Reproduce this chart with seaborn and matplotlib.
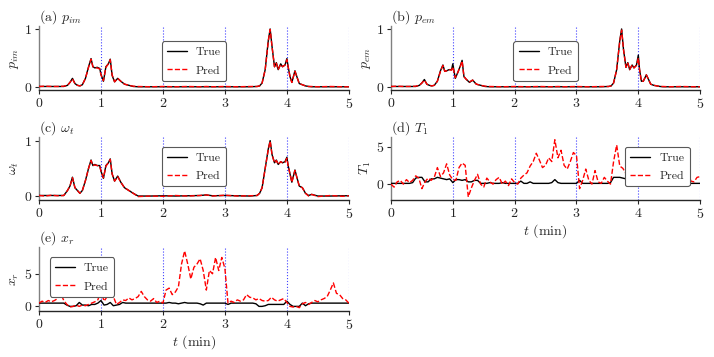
import matplotlib
matplotlib.use("Agg")
import matplotlib.pyplot as plt
import seaborn as sns

# time knots for the first three panels (min)
t_ac = [0.0, 0.1, 0.2, 0.3, 0.4, 0.46, 0.5, 0.54, 0.58, 0.62,
        0.66, 0.7, 0.75, 0.8, 0.84, 0.87, 0.9, 0.94, 0.98, 1.0,
        1.04, 1.08, 1.12, 1.15, 1.18, 1.22, 1.27, 1.32, 1.38, 1.45,
        1.52, 1.6, 1.8, 2.0, 2.2, 2.4, 2.6, 2.7, 2.8, 3.0,
        3.2, 3.4, 3.52, 3.56, 3.6, 3.65, 3.7, 3.73, 3.76, 3.8,
        3.83, 3.86, 3.9, 3.93, 3.97, 4.0, 4.02, 4.05, 4.08, 4.13,
        4.17, 4.2, 4.25, 4.3, 4.35, 4.4, 4.5, 4.7, 4.9, 5.0]

pim_true = [0.01, 0.01, 0.01, 0.01, 0.01, 0.03, 0.08, 0.15, 0.06, 0.03,
            0.02, 0.04, 0.15, 0.35, 0.49, 0.35, 0.33, 0.34, 0.32, 0.22,
            0.10, 0.35, 0.40, 0.48, 0.20, 0.09, 0.15, 0.10, 0.05, 0.03,
            0.01, 0.005, 0.005, 0.005, 0.005, 0.005, 0.005, 0.005, 0.005, 0.005,
            0.005, 0.005, 0.01, 0.02, 0.07, 0.30, 0.80, 1.0, 0.70, 0.35,
            0.42, 0.30, 0.40, 0.35, 0.38, 0.49, 0.35, 0.18, 0.08, 0.28,
            0.15, 0.06, 0.04, 0.02, 0.01, 0.005, 0.005, 0.005, 0.005, 0.005]
pim_pred = [0.01, 0.015, 0.01, 0.01, 0.015, 0.03, 0.08, 0.14, 0.06, 0.03,
            0.02, 0.04, 0.15, 0.34, 0.48, 0.35, 0.33, 0.33, 0.31, 0.21,
            0.11, 0.34, 0.40, 0.47, 0.21, 0.09, 0.15, 0.10, 0.05, 0.03,
            0.015, 0.01, 0.005, 0.01, 0.005, 0.01, 0.005, 0.01, 0.005, 0.01,
            0.005, 0.01, 0.01, 0.02, 0.07, 0.30, 0.79, 0.99, 0.70, 0.35,
            0.41, 0.30, 0.39, 0.35, 0.38, 0.47, 0.35, 0.18, 0.08, 0.27,
            0.15, 0.06, 0.04, 0.02, 0.01, 0.01, 0.005, 0.01, 0.005, 0.005]

pem_true = [0.01, 0.01, 0.01, 0.01, 0.01, 0.03, 0.07, 0.13, 0.05, 0.03,
            0.02, 0.03, 0.10, 0.28, 0.38, 0.27, 0.28, 0.30, 0.30, 0.40,
            0.15, 0.25, 0.36, 0.46, 0.18, 0.13, 0.08, 0.12, 0.05, 0.03,
            0.01, 0.005, 0.005, 0.005, 0.005, 0.005, 0.005, 0.005, 0.005, 0.005,
            0.005, 0.005, 0.01, 0.02, 0.07, 0.30, 0.80, 1.0, 0.65, 0.34,
            0.42, 0.30, 0.38, 0.33, 0.38, 0.55, 0.30, 0.10, 0.10, 0.21,
            0.12, 0.05, 0.03, 0.02, 0.01, 0.005, 0.005, 0.005, 0.005, 0.005]
pem_pred = [0.01, 0.015, 0.01, 0.01, 0.015, 0.03, 0.07, 0.12, 0.05, 0.03,
            0.02, 0.03, 0.10, 0.27, 0.37, 0.27, 0.28, 0.30, 0.29, 0.35,
            0.16, 0.25, 0.35, 0.45, 0.18, 0.13, 0.09, 0.12, 0.05, 0.03,
            0.015, 0.01, 0.005, 0.01, 0.005, 0.01, 0.005, 0.01, 0.005, 0.01,
            0.005, 0.01, 0.01, 0.02, 0.07, 0.30, 0.79, 0.98, 0.65, 0.34,
            0.41, 0.30, 0.38, 0.33, 0.37, 0.50, 0.30, 0.10, 0.10, 0.21,
            0.12, 0.05, 0.03, 0.02, 0.01, 0.01, 0.005, 0.01, 0.005, 0.005]

wt_true = [0.01, 0.01, 0.01, 0.01, 0.01, 0.10, 0.18, 0.34, 0.15, 0.10,
           0.05, 0.10, 0.28, 0.50, 0.65, 0.55, 0.57, 0.55, 0.55, 0.45,
           0.32, 0.55, 0.60, 0.67, 0.40, 0.27, 0.36, 0.25, 0.15, 0.10,
           0.05, 0.0, 0.0, 0.005, 0.0, 0.005, 0.01, 0.02, 0.005, 0.01,
           0.005, 0.0, 0.01, 0.05, 0.15, 0.50, 0.85, 1.0, 0.75, 0.60,
           0.65, 0.57, 0.62, 0.60, 0.62, 0.70, 0.55, 0.40, 0.25, 0.47,
           0.30, 0.18, 0.15, 0.05, 0.01, 0.03, 0.0, 0.0, 0.005, 0.005]
wt_pred = [0.01, 0.0, 0.015, 0.005, 0.01, 0.10, 0.18, 0.33, 0.15, 0.10,
           0.05, 0.10, 0.28, 0.50, 0.64, 0.55, 0.56, 0.55, 0.54, 0.45,
           0.33, 0.54, 0.60, 0.66, 0.40, 0.27, 0.35, 0.25, 0.15, 0.10,
           0.05, -0.01, 0.0, -0.005, 0.01, 0.0, 0.01, 0.02, 0.0, 0.015,
           0.0, 0.005, 0.01, 0.05, 0.15, 0.50, 0.84, 0.99, 0.75, 0.60,
           0.64, 0.57, 0.62, 0.60, 0.61, 0.68, 0.55, 0.40, 0.25, 0.46,
           0.30, 0.18, 0.15, 0.05, 0.0, 0.03, -0.01, 0.01, -0.005, 0.005]

# time grid for the last two panels (min)
t_de = [0.0, 0.05, 0.1, 0.15, 0.2, 0.25, 0.3, 0.35, 0.4, 0.45,
        0.5, 0.55, 0.6, 0.65, 0.7, 0.75, 0.8, 0.85, 0.9, 0.95,
        1.0, 1.05, 1.1, 1.15, 1.2, 1.25, 1.3, 1.35, 1.4, 1.45,
        1.5, 1.55, 1.6, 1.65, 1.7, 1.75, 1.8, 1.85, 1.9, 1.95,
        2.0, 2.05, 2.1, 2.15, 2.2, 2.25, 2.3, 2.35, 2.4, 2.45,
        2.5, 2.55, 2.6, 2.65, 2.7, 2.75, 2.8, 2.85, 2.9, 2.95,
        3.0, 3.05, 3.1, 3.15, 3.2, 3.25, 3.3, 3.35, 3.4, 3.45,
        3.5, 3.55, 3.6, 3.65, 3.7, 3.75, 3.8, 3.85, 3.9, 3.95,
        4.0, 4.05, 4.1, 4.15, 4.2, 4.25, 4.3, 4.35, 4.4, 4.45,
        4.5, 4.55, 4.6, 4.65, 4.7, 4.75, 4.8, 4.85, 4.9, 4.95,
        5.0]

T1_true = [0.1, 0.1, 0.1, 0.1, 0.1, 0.1, 0.1, 0.2, 0.8, 0.9,
           0.9, 0.3, 0.3, 0.7, 0.7, 0.9, 0.8, 0.7, 0.6, 0.7,
           0.2, 0.6, 0.6, 0.5, 0.6, 0.3, 0.3, 0.5, 0.5, 0.1,
           0.1, 0.1, 0.2, 0.1, 0.1, 0.1, 0.2, 0.1, 0.1, 0.1,
           0.1, 0.1, 0.4, 0.1, 0.1, 0.3, 0.1, 0.1, 0.1, 0.1,
           0.1, 0.1, 0.2, 0.6, 0.2, 0.1, 0.1, 0.1, 0.1, 0.1,
           0.1, 0.5, 0.1, 0.1, 0.1, 0.1, 0.1, 0.1, 0.1, 0.1,
           0.1, 0.2, 0.9, 0.9, 0.9, 0.8, 0.7, 0.7, 0.6, 0.7,
           0.5, 0.1, 0.0, 0.5, 0.6, 0.2, 0.1, 0.1, 0.1, 0.1,
           0.1, 0.1, 0.1, 0.1, 0.1, 0.1, 0.1, 0.1, 0.1, 0.1,
           0.1]
T1_pred = [0.0, -0.4, 0.3, 0.5, 0.0, 0.6, 0.2, 0.5, 1.1, 0.8,
           -0.6, 0.3, 0.8, 0.5, 0.9, 2.2, 1.0, 1.5, 2.7, 1.2,
           0.6, 0.5, 2.2, 2.8, 2.5, -1.7, -0.5, 0.5, 1.3, 0.0,
           -0.4, 0.8, 0.3, 0.0, 0.6, 0.9, 0.0, 0.4, -0.2, 0.7,
           0.2, 0.0, 0.8, 1.2, 1.5, 2.4, 3.0, 4.1, 3.2, 2.2,
           2.5, 3.5, 3.0, 5.9, 3.5, 4.5, 2.5, 2.0, 3.0, 4.2,
           3.8, -0.6, 0.5, 2.0, 0.5, 0.0, 1.8, 0.3, 0.1, 0.9,
           0.4, 0.0, 3.0, 5.2, 2.4, 2.1, 1.4, 1.9, 1.6, 1.8,
           0.6, 1.2, 0.5, 0.8, 0.3, 1.0, 0.5, 0.2, 0.9, 0.3,
           0.7, 0.1, 0.8, 0.2, 1.2, 0.5, 1.8, 0.4, 0.3, 0.9,
           1.0]

xr_true = [0.5, 0.5, 0.5, 0.5, 0.5, 0.5, 0.5, 0.5, 0.5, 0.2,
           0.0, 0.0, 0.1, 0.6, 0.2, 0.2, 0.1, 0.3, 0.3, 0.5,
           0.9, 0.2, 0.3, 0.6, 0.1, 0.2, 0.3, 0.6, 0.5, 0.5,
           0.5, 0.5, 0.5, 0.5, 0.5, 0.5, 0.5, 0.5, 0.5, 0.5,
           0.5, 0.5, 0.6, 0.5, 0.5, 0.4, 0.5, 0.6, 0.5, 0.5,
           0.5, 0.5, 0.4, 0.2, 0.5, 0.5, 0.5, 0.5, 0.5, 0.5,
           0.5, 0.3, 0.5, 0.5, 0.5, 0.5, 0.5, 0.5, 0.5, 0.5,
           0.4, 0.0, 0.0, 0.1, 0.3, 0.3, 0.3, 0.3, 0.3, 0.3,
           0.8, 0.3, 0.0, 0.0, 0.0, 0.5, 0.1, 0.4, 0.5, 0.5,
           0.5, 0.5, 0.5, 0.5, 0.5, 0.5, 0.5, 0.5, 0.5, 0.5,
           0.5]
xr_pred = [0.5, 0.8, 0.6, 0.9, 0.7, 0.9, 1.2, 2.0, 0.9, 0.3,
           -0.1, 0.0, 0.2, 0.0, 0.2, 0.1, 0.3, 0.5, 0.7, 1.0,
           2.4, 0.8, 1.5, 3.2, 1.5, 0.3, 0.6, 1.0, 0.9, 1.3,
           1.0, 1.2, 1.5, 2.3, 1.5, 1.0, 0.8, 1.2, 0.6, 0.8,
           0.5, 2.5, 2.8, 1.8, 2.2, 3.0, 6.5, 8.5, 6.5, 4.2,
           6.0, 6.5, 7.3, 5.5, 2.5, 5.5, 5.0, 7.5, 5.5, 7.5,
           5.8, 0.5, 0.8, 0.6, 1.0, 0.8, 1.0, 1.8, 1.4, 1.3,
           1.0, 1.2, 0.9, 0.8, 0.9, 1.4, 1.0, 0.8, 1.0, 1.2,
           0.6, 0.0, -0.1, 0.0, -0.2, 0.4, 0.6, 0.3, 0.6, 0.9,
           0.7, 1.0, 1.2, 1.5, 2.5, 3.6, 2.0, 1.8, 1.2, 1.0,
           0.5]

vlines = [1, 2, 3, 4, 5]

sns.set_theme(style="ticks")
plt.rcParams['font.family'] = ['cmr10', 'DejaVu Serif']
plt.rcParams['mathtext.fontset'] = 'cm'
plt.rcParams['axes.formatter.use_mathtext'] = True
plt.rcParams['axes.unicode_minus'] = False

fig = plt.figure(figsize=(7.14, 3.57), dpi=100)

panels = [
    # rect, title, ylabel, t, true, pred, ylim, yticks, legend loc, anchor, xlabel
    ([0.0546, 0.748, 0.434, 0.179], "(a) $p_{im}$", "$p_{im}$", t_ac, pim_true, pim_pred,
     (-0.05, 1.05), [0, 1], "lower center", (0.5, 0.05), False),
    ([0.5476, 0.748, 0.433, 0.179], "(b) $p_{em}$", "$p_{em}$", t_ac, pem_true, pem_pred,
     (-0.05, 1.05), [0, 1], "lower center", (0.5, 0.05), False),
    ([0.0546, 0.440, 0.434, 0.177], r"(c) $\omega_t$", r"$\omega_t$", t_ac, wt_true, wt_pred,
     (-0.07, 1.07), [0, 1], "upper center", (0.5, 0.93), False),
    ([0.5476, 0.440, 0.433, 0.177], "(d) $T_1$", "$T_1$", t_de, T1_true, T1_pred,
     (-2.1, 6.3), [0, 5], "upper right", (0.985, 0.93), True),
    ([0.0546, 0.129, 0.434, 0.179], "(e) $x_r$", "$x_r$", t_de, xr_true, xr_pred,
     (-0.7, 9.1), [0, 5], "upper left", (0.015, 0.93), True),
]

for rect, title, ylab, t, y_true, y_pred, ylim, yticks, loc, anchor, show_x in panels:
    ax = fig.add_axes(rect)
    for v in vlines:
        ax.axvline(v, color="blue", ls=":", lw=0.8, alpha=0.75, zorder=1)
    sns.lineplot(x=t, y=y_true, ax=ax, color="black", lw=1.0, label="True",
                 estimator=None, sort=False, zorder=3)
    sns.lineplot(x=t, y=y_pred, ax=ax, color="red", lw=1.0, ls="--", label="Pred",
                 estimator=None, sort=False, zorder=4)
    ax.set_xlim(0, 5)
    ax.set_ylim(*ylim)
    ax.set_xticks([0, 1, 2, 3, 4, 5])
    ax.set_yticks(yticks)
    ax.tick_params(labelsize=10, length=3, width=0.8, pad=2)
    ax.set_title(title, loc="left", fontsize=10, pad=3)
    ax.set_ylabel(ylab, fontsize=10, labelpad=2)
    if show_x:
        ax.set_xlabel("$t$ (min)", fontsize=10, labelpad=1)
    else:
        ax.set_xlabel("")
    sns.despine(ax=ax)
    ax.spines["left"].set_color("0.5")
    ax.spines["left"].set_linewidth(1.0)
    ax.spines["bottom"].set_linewidth(1.0)
    leg = ax.legend(loc=loc, bbox_to_anchor=anchor, fontsize=8.5, frameon=True,
                    fancybox=True, handlelength=1.7, borderpad=0.45,
                    labelspacing=0.7, handletextpad=0.75, framealpha=1.0)
    leg.get_frame().set_edgecolor("0.35")
    leg.get_frame().set_linewidth(0.8)

fig.savefig("out.png", dpi=100)
